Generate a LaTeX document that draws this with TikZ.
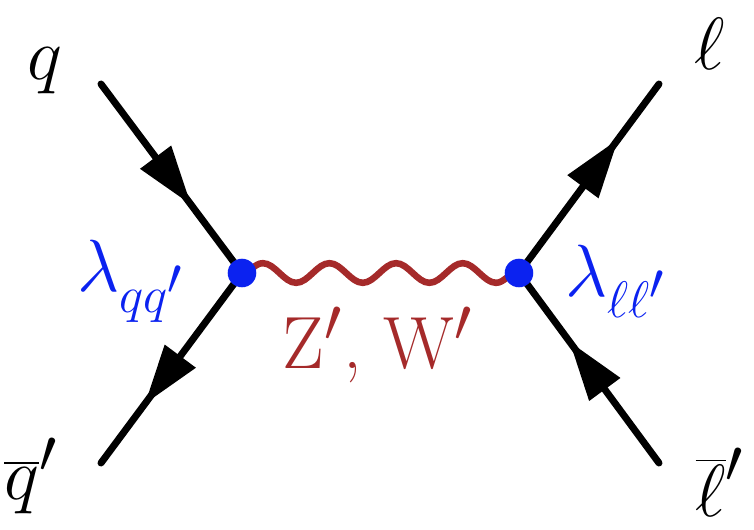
\documentclass[tikz,border=0pt]{standalone}
\usepackage{tikz}
\usetikzlibrary{arrows.meta, decorations.markings, decorations.pathmorphing}
\usepackage{xcolor}
\definecolor{Coupling}{HTML}{0B22F0}
\definecolor{Mediator}{HTML}{A52A2A}

\begin{document}
\begin{tikzpicture}[
    x=0.3362pt, y=-0.3362pt,
    every node/.style={font=\Huge, inner sep=0pt},
    fermion/.style={line width=2.35pt, line cap=round, postaction={decorate},
        decoration={markings, mark=at position #1 with {\arrow{Triangle[length=20pt, width=12.4pt]}}}},
    boson/.style={Mediator, line width=2.2pt, decorate,
        decoration={snake, segment length=22.4pt, amplitude=3.3pt}},
    vertex/.style={circle, fill=Coupling, minimum size=9.6pt}
]
\useasboundingbox (0,0) rectangle (754,530);

% === Ends of the legs ===
\coordinate (q)  at (101,84);
\coordinate (qb) at (101,463);
\coordinate (l)  at (659,84);
\coordinate (lb) at (659,463);
\coordinate (vq) at (242,273);
\coordinate (vl) at (519,273);

% === Quark side ===
\draw[fermion=0.64] (q) -- (vq);
\draw[fermion=0.69] (vq) -- (qb);

% === Lepton side ===
\draw[fermion=0.71] (vl) -- (l);
\draw[fermion=0.64] (lb) -- (vl);

% Propagator
\draw[boson] (vq) -- (vl);

% Vertices
\node[vertex] (dq) at (vq) {};
\node[vertex] (dl) at (vl) {};

% === Labels ===
\node[anchor=base] (lq)  at (45,79)  {$q$};
\node[anchor=base] (lqb) at (31,499) {$\overline{q}'$};
\node[anchor=base] (ll)  at (710,69) {$\ell$};
\node[anchor=base] (llb) at (720,516) {$\overline{\ell}'$};
\node[anchor=base, Coupling] (cq) at (131,291) {$\lambda_{\scriptscriptstyle qq'}$};
\node[anchor=base, Coupling] (cl) at (616,296) {$\lambda_{\scriptscriptstyle \ell\ell'}$};
\node[anchor=base, Mediator] (zw) at (378,368) {Z$'$,\ W$'$};

\end{tikzpicture}
\end{document}
